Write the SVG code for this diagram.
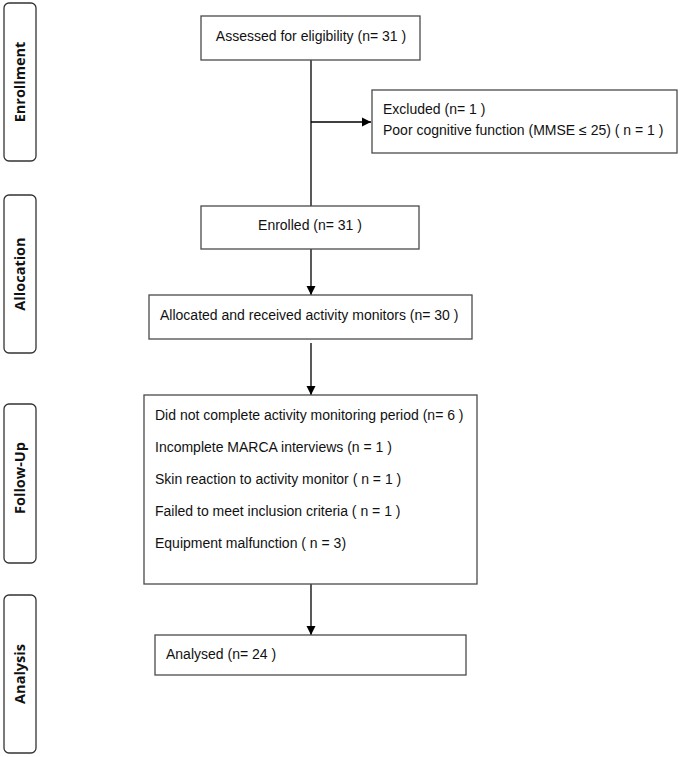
<svg xmlns="http://www.w3.org/2000/svg" width="681" height="757" viewBox="0 0 681 757">
<style>
.box{fill:#fff;stroke:#4a4a4a;stroke-width:1.3}
.side{fill:#fff;stroke:#333;stroke-width:1.3}
.t{font-family:"Liberation Sans",Arial,sans-serif;font-size:14px;fill:#111}
.s{font-family:"Open Sans","Liberation Sans",sans-serif;font-size:14.5px;font-weight:bold;fill:#111}
.c{stroke:#000;stroke-width:1.3;fill:none}
</style>
<defs>
<marker id="ah" markerWidth="10" markerHeight="10" refX="9" refY="5" orient="auto" markerUnits="userSpaceOnUse">
<path d="M0,0.5 L9,5 L0,9.5 Z" fill="#000"/>
</marker>
</defs>
<rect width="681" height="757" fill="#fff"/>
<g id="phase-enrollment"><rect class="side" x="4" y="3" width="32" height="158" rx="5"/><text class="s" transform="translate(25,82) rotate(-90)" text-anchor="middle">Enrollment</text></g>
<g id="phase-allocation"><rect class="side" x="4" y="195" width="32" height="158" rx="5"/><text class="s" transform="translate(25,274) rotate(-90)" text-anchor="middle">Allocation</text></g>
<g id="phase-followup"><rect class="side" x="4" y="404" width="32" height="159" rx="5"/><text class="s" transform="translate(25,478) rotate(-90)" text-anchor="middle">Follow-Up</text></g>
<g id="phase-analysis"><rect class="side" x="4" y="595" width="32" height="158" rx="5"/><text class="s" transform="translate(25,674) rotate(-90)" text-anchor="middle">Analysis</text></g>
<g id="connectors">
<line class="c" x1="311" y1="60" x2="311" y2="206"/>
<line class="c" x1="311" y1="122" x2="371" y2="122" marker-end="url(#ah)"/>
<line class="c" x1="311" y1="249" x2="311" y2="295" marker-end="url(#ah)"/>
<line class="c" x1="311" y1="343" x2="311" y2="395" marker-end="url(#ah)"/>
<line class="c" x1="311" y1="584" x2="311" y2="635" marker-end="url(#ah)"/>
</g>
<g id="assessed"><rect class="box" x="201" y="16" width="219" height="44"/><text class="t" x="311" y="41" text-anchor="middle">Assessed for eligibility (n= 31 )</text></g>
<g id="excluded"><rect class="box" x="372" y="90" width="305" height="63"/><text class="t" x="383" y="114">Excluded (n= 1 )</text><text class="t" x="383" y="135">Poor cognitive function (MMSE ≤ 25) ( n = 1 )</text></g>
<g id="enrolled"><rect class="box" x="201" y="206" width="218" height="43"/><text class="t" x="310" y="230" text-anchor="middle">Enrolled (n= 31 )</text></g>
<g id="allocated"><rect class="box" x="149" y="295" width="323" height="44"/><text class="t" x="160" y="320">Allocated and received activity monitors (n= 30 )</text></g>
<g id="followup"><rect class="box" x="144" y="395" width="333" height="189"/>
<text class="t" x="155" y="420">Did not complete activity monitoring period (n= 6 )</text>
<text class="t" x="155" y="452">Incomplete MARCA interviews (n = 1 )</text>
<text class="t" x="155" y="484">Skin reaction to activity monitor ( n = 1 )</text>
<text class="t" x="155" y="516">Failed to meet inclusion criteria ( n = 1 )</text>
<text class="t" x="155" y="548">Equipment malfunction ( n = 3)</text>
</g>
<g id="analysed"><rect class="box" x="155" y="635" width="311" height="40"/><text class="t" x="166" y="659">Analysed (n= 24 )</text></g>
</svg>
